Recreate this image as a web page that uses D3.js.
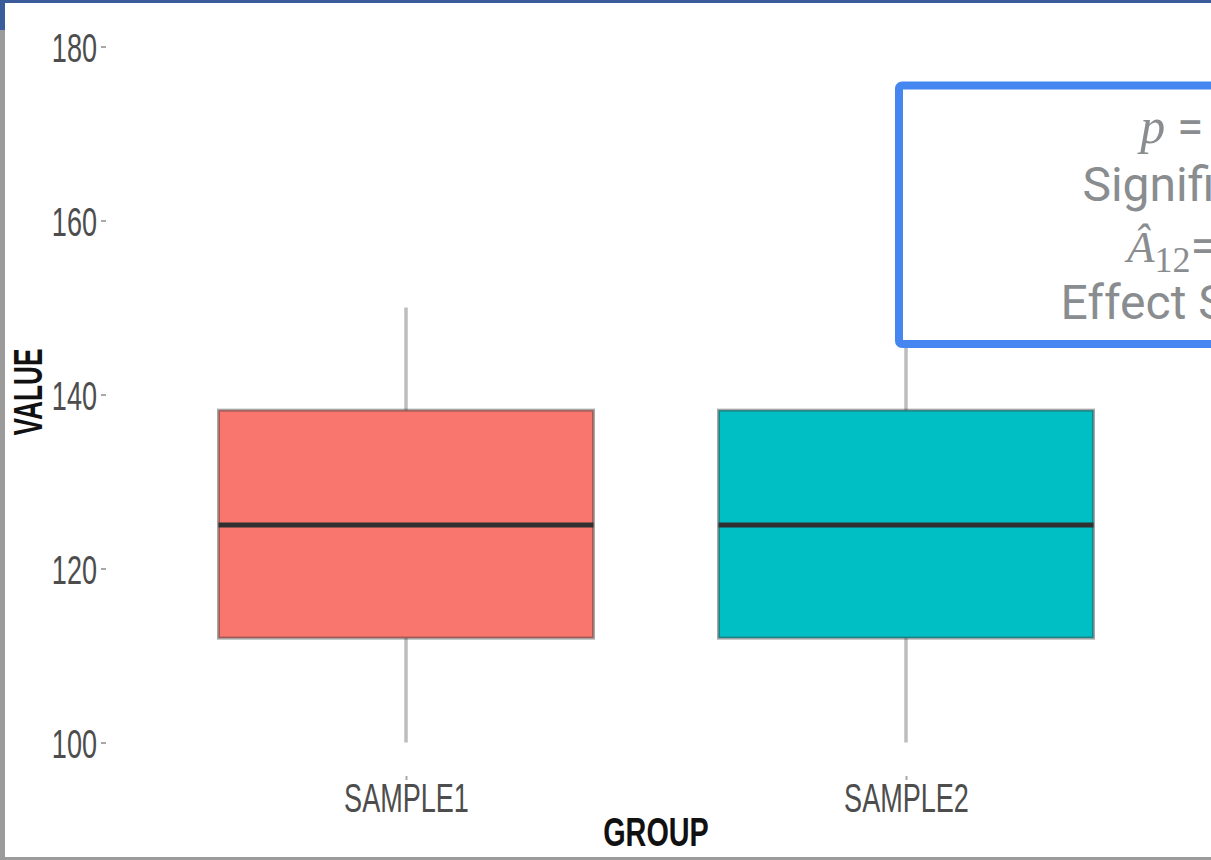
<!DOCTYPE html>
<html>
<head>
<meta charset="utf-8">
<script src="https://cdn.jsdelivr.net/npm/d3@7"></script>
<style>
  html, body { margin: 0; padding: 0; background: #fff; }
  svg { display: block; }
</style>
</head>
<body>
<svg id="chart" width="1211" height="860"></svg>
<script>
// Box-plot summary per group
const categories   = ["SAMPLE1", "SAMPLE2"];
const whiskerLow   = [100, 100];
const lowerQuart   = [112, 112];
const medians      = [125, 125];
const upperQuart   = [138.2, 138.2];
const whiskerHigh  = [150, 150];
const groupFills   = ["#F8766D", "#00BFC4"];

// Axis ticks and titles
const yTickValues  = [100, 120, 140, 160, 180];
const xTitle = "GROUP";
const yTitle = "VALUE";

// Test summary shown in the annotation box
const pValue       = "1.0000000";
const significance = "Significance: FALSE";
const a12Value     = "0.5000000";
const effectSize   = "Effect Size: Negligible";

const svg = d3.select("#chart");
const W = 1211, H = 860;

svg.append("rect").attr("width", W).attr("height", H).attr("fill", "#fff");

// plot region
const plot = { left: 106, right: 1206, top: 46.5, bottom: 776 };

const x = d3.scalePoint()
  .domain(categories)
  .range([plot.left, plot.right])
  .padding(0.6);

const y = d3.scaleLinear()
  .domain([100, 180])
  .range([742.5, 46.5]);

const boxWidth = x.step() * 0.75;

const rows = categories.map((c, i) => ({
  cat: c, lo: whiskerLow[i], q1: lowerQuart[i], med: medians[i],
  q3: upperQuart[i], hi: whiskerHigh[i], fill: groupFills[i]
}));

const sketchFont = "'Liberation Sans', Arial, sans-serif";

// y axis
const yAxis = svg.append("g")
  .attr("transform", `translate(${plot.left},0)`)
  .call(d3.axisLeft(y).tickValues(yTickValues).tickSize(5).tickFormat(d3.format("d")));
yAxis.select(".domain").remove();
yAxis.selectAll(".tick line").attr("stroke", "#a8a8a8").attr("stroke-width", 2);
yAxis.selectAll(".tick text")
  .attr("x", 0).attr("dy", "0.36em")
  .attr("transform", "translate(-9,0) scale(0.66,1)")
  .attr("font-family", sketchFont).attr("font-size", 41)
  .attr("fill", "#4d4d4d");

// x axis
const xAxis = svg.append("g")
  .attr("transform", `translate(0,${plot.bottom})`)
  .call(d3.axisBottom(x).tickSize(4));
xAxis.select(".domain").remove();
xAxis.selectAll(".tick line").attr("stroke", "#a8a8a8").attr("stroke-width", 2);
xAxis.selectAll(".tick text")
  .attr("y", 0).attr("dy", 0)
  .attr("transform", "translate(0,36) scale(0.66,1)")
  .attr("font-family", sketchFont).attr("font-size", 41)
  .attr("fill", "#4d4d4d");

// axis titles
svg.append("text")
  .attr("transform", `translate(${(plot.left + plot.right) / 2},846) scale(0.72,1)`)
  .attr("text-anchor", "middle")
  .attr("font-family", sketchFont).attr("font-size", 40).attr("font-weight", 700)
  .attr("fill", "#111")
  .text(xTitle);

svg.append("text")
  .attr("transform", "translate(41.5,392) rotate(-90) scale(0.64,1)")
  .attr("text-anchor", "middle")
  .attr("font-family", sketchFont).attr("font-size", 41).attr("font-weight", 700)
  .attr("fill", "#111")
  .text(yTitle);

// whiskers
const g = svg.append("g");
g.selectAll("line.whisker")
  .data(rows).join("line")
  .attr("class", "whisker")
  .attr("x1", d => x(d.cat)).attr("x2", d => x(d.cat))
  .attr("y1", d => y(d.lo)).attr("y2", d => y(d.hi))
  .attr("stroke", "#bdbdbd").attr("stroke-width", 3.5);

// boxes
g.selectAll("rect.box")
  .data(rows).join("rect")
  .attr("class", "box")
  .attr("x", d => x(d.cat) - boxWidth / 2)
  .attr("width", boxWidth)
  .attr("y", d => y(d.q3))
  .attr("height", d => y(d.q1) - y(d.q3))
  .attr("fill", d => d.fill)
  .attr("stroke", "#3a3a3a").attr("stroke-opacity", 0.45)
  .attr("stroke-width", 3);

// medians
g.selectAll("line.median")
  .data(rows).join("line")
  .attr("class", "median")
  .attr("x1", d => x(d.cat) - boxWidth / 2).attr("x2", d => x(d.cat) + boxWidth / 2)
  .attr("y1", d => y(d.med)).attr("y2", d => y(d.med))
  .attr("stroke", "#303030").attr("stroke-width", 5);

// annotation box with test results
const ann = svg.append("g");
ann.append("rect")
  .attr("x", 899).attr("y", 85.5)
  .attr("width", 786).attr("height", 258.5)
  .attr("rx", 3)
  .attr("fill", "#fff")
  .attr("stroke", "#4586f0").attr("stroke-width", 8);

const cx = 1292;
const textFont = "Roboto, 'Noto Sans', sans-serif";
const mathFont = "'Liberation Serif', 'DejaVu Serif', serif";
const grey = "#8a8d90";
const fs = 48;

const l1 = ann.append("text").attr("x", cx).attr("y", 143)
  .attr("text-anchor", "middle").attr("fill", grey)
  .attr("font-family", textFont).attr("font-size", fs);
l1.append("tspan").attr("font-family", mathFont).attr("font-style", "italic").attr("font-size", 50).text("p");
l1.append("tspan").text(" = " + pValue);

ann.append("text").attr("x", cx).attr("y", 201)
  .attr("text-anchor", "middle").attr("fill", grey)
  .attr("font-family", textFont).attr("font-size", fs)
  .text(significance);

const l3 = ann.append("text").attr("x", cx).attr("y", 262)
  .attr("text-anchor", "middle").attr("fill", grey)
  .attr("font-family", textFont).attr("font-size", fs);
l3.append("tspan").attr("font-family", mathFont).attr("font-style", "italic").attr("font-size", 45).text("Â");
l3.append("tspan").attr("font-family", mathFont).attr("font-size", 36).attr("dy", 10).text("12");
l3.append("tspan").attr("dy", -10).text("= " + a12Value);

ann.append("text").attr("x", cx).attr("y", 319)
  .attr("text-anchor", "middle").attr("fill", grey)
  .attr("font-family", textFont).attr("font-size", fs)
  .text(effectSize);

// window frame edges around the chart
svg.append("rect").attr("x", 0).attr("y", 0).attr("width", W).attr("height", 3).attr("fill", "#3a5c9a");
svg.append("rect").attr("x", 0).attr("y", 0).attr("width", 5).attr("height", H).attr("fill", "#9b9b9b");
svg.append("rect").attr("x", 0).attr("y", 0).attr("width", 5).attr("height", 30).attr("fill", "#3a5c9a");
svg.append("rect").attr("x", 0).attr("y", 857).attr("width", W).attr("height", 3).attr("fill", "#9b9b9b");
</script>
</body>
</html>
